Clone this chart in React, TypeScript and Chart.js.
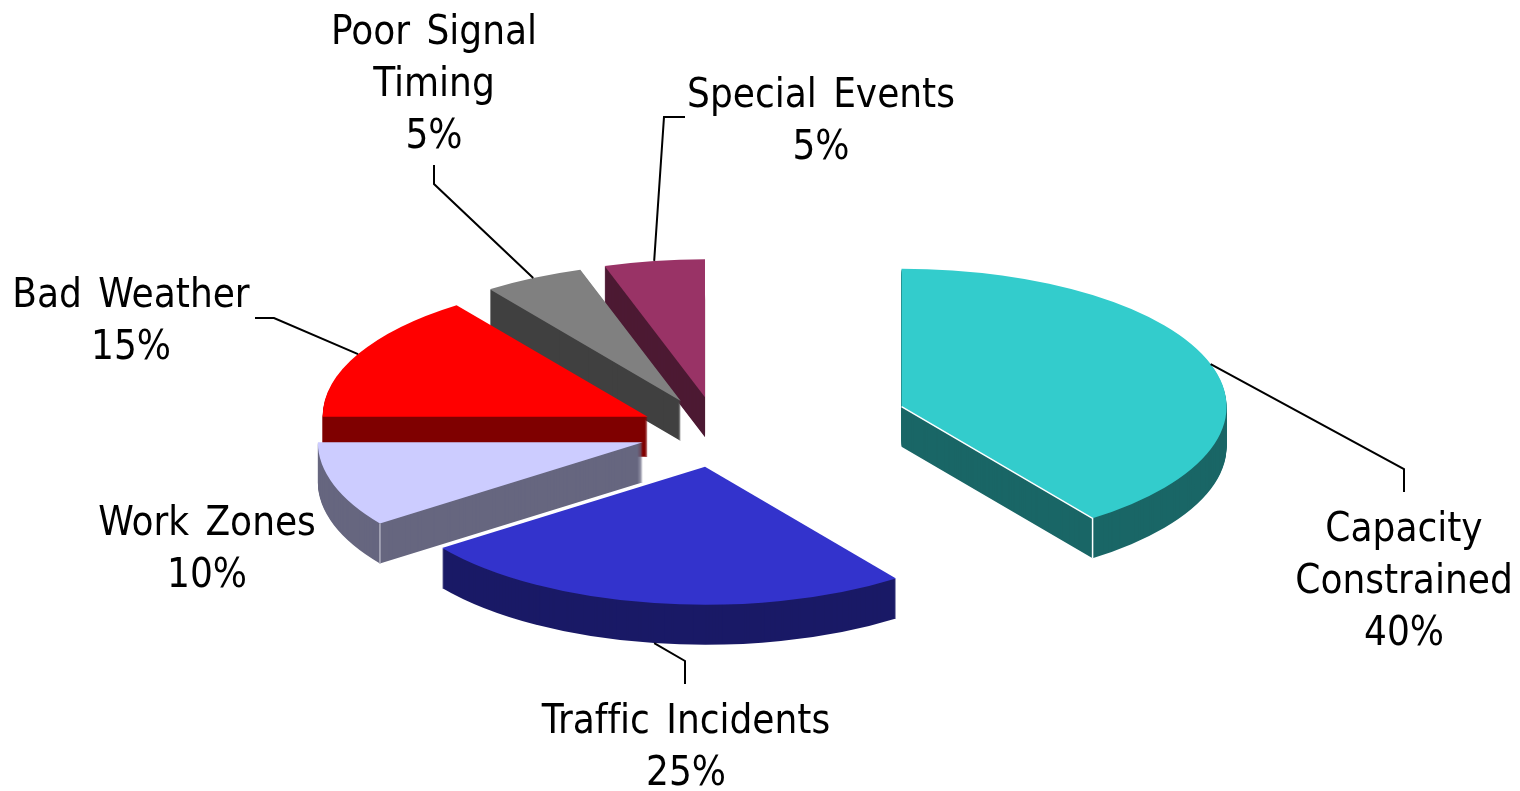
import React, { useEffect, useRef } from "react";
import { Chart, registerables } from "chart.js";

Chart.register(...registerables);

// Data
const categories = ["Capacity Constrained", "Traffic Incidents", "Work Zones", "Bad Weather", "Poor Signal Timing", "Special Events"];
const shares = [40, 25, 10, 15, 5, 5];
const labelLines = [["Capacity", "Constrained"], ["Traffic Incidents"], ["Work Zones"], ["Bad Weather"], ["Poor Signal", "Timing"], ["Special Events"]];
const sliceColors = ["#33CCCC", "#3333CC", "#CCCCFF", "#FF0000", "#808080", "#993366"];

// Styling / layout
const explode = [193, 83, 79, 79, 82, 83];
const SQUASH = 0.4246;
const DEPTH = 40;
const RADIUS = 325;
const FONT = '40px "DejaVu Sans Condensed", "DejaVu Sans", sans-serif';
const LINE_H = 52;
const labelCenterX = [1404, 686, 207, 131, 434, 821];
const labelFirstBaseline = [541, 733, 535, 307, 44, 107];
// Leader lines: elbow points from slice edge out to label (null = no leader)
const leaderElbows: (number[][] | null)[] = [
  [[1404, 469], [1404, 492]],
  [[685, 661], [685, 684]],
  null,
  [[274, 318], [255, 318]],
  [[434, 184], [434, 165]],
  [[664, 117], [685, 117]],
];
const leaderOnSide = [false, true, false, false, false, false];
const drawOrder = [5, 4, 3, 2, 1, 0];
const cornerEdge: (string | null)[] = ["#FFFFFF", null, "#B0B0C0", null, null, null];

function sliceOrigin(arc: any, i: number) {
  const mid = (arc.startAngle + arc.endAngle) / 2;
  return {
    mid,
    ox: arc.x + Math.cos(mid) * explode[i],
    oy: arc.y + Math.sin(mid) * explode[i] * SQUASH,
  };
}

const pie3d = {
  id: "pie3d",
  beforeDatasetsDraw(chart: any) {
    const ctx = chart.ctx;
    const arcs = chart.getDatasetMeta(0).data;
    for (const i of drawOrder) {
      const arc = arcs[i];
      const { ox, oy } = sliceOrigin(arc, i);
      const paint = (lift: number) => {
        ctx.save();
        ctx.translate(ox, oy + lift);
        ctx.scale(1, SQUASH);
        ctx.translate(-arc.x, -arc.y);
        arc.draw(ctx);
        ctx.restore();
      };
      ctx.save();
      ctx.filter = "brightness(50%)";
      for (let d = DEPTH; d > 0; d--) paint(d);
      ctx.restore();
      paint(0);
      const edge = cornerEdge[i];
      if (edge) {
        const a = i === 0 ? arc.endAngle : arc.startAngle;
        const px = ox + Math.cos(a) * RADIUS;
        const py = oy + Math.sin(a) * RADIUS * SQUASH;
        ctx.save();
        ctx.strokeStyle = edge;
        ctx.lineWidth = 1.5;
        ctx.beginPath();
        if (i === 0) {
          ctx.moveTo(ox, oy);
          ctx.lineTo(px, py);
        } else {
          ctx.moveTo(px, py);
        }
        ctx.lineTo(px, py + DEPTH);
        ctx.stroke();
        ctx.restore();
      }
    }
    return false;
  },
  afterDraw(chart: any) {
    const ctx = chart.ctx;
    const arcs = chart.getDatasetMeta(0).data;
    ctx.save();
    ctx.strokeStyle = "#000000";
    ctx.lineWidth = 2;
    ctx.lineJoin = "miter";
    arcs.forEach((arc: any, i: number) => {
      const elbows = leaderElbows[i];
      if (!elbows) return;
      const { mid, ox, oy } = sliceOrigin(arc, i);
      ctx.beginPath();
      ctx.moveTo(ox + Math.cos(mid) * RADIUS, oy + Math.sin(mid) * RADIUS * SQUASH + (leaderOnSide[i] ? DEPTH : 0));
      elbows.forEach(([x, y]) => ctx.lineTo(x, y));
      ctx.stroke();
    });
    ctx.fillStyle = "#000000";
    ctx.font = FONT;
    ctx.textAlign = "center";
    ctx.textBaseline = "alphabetic";
    ctx.textRendering = "optimizeSpeed";
    ctx.wordSpacing = "5px";
    labelLines.forEach((lines, i) => {
      [...lines, shares[i] + "%"].forEach((t, k) => {
        ctx.fillText(t, labelCenterX[i], labelFirstBaseline[i] + k * LINE_H);
      });
    });
    ctx.restore();
  },
};

export default function App() {
  const ref = useRef<HTMLCanvasElement>(null);
  useEffect(() => {
    const chart = new Chart(ref.current!, {
      type: "pie",
      data: {
        labels: categories,
        datasets: [{ data: shares, backgroundColor: sliceColors, borderWidth: 0 }],
      },
      options: {
        animation: false,
        responsive: false,
        devicePixelRatio: 1,
        radius: RADIUS,
        layout: { padding: { top: 73, right: 84, left: 0, bottom: 0 } },
        plugins: { legend: { display: false }, tooltip: { enabled: false } },
      } as any,
      plugins: [pie3d],
    });
    return () => chart.destroy();
  }, []);
  return (
    <canvas
      ref={ref}
      width={1520}
      height={791}
      style={{ position: "absolute", left: 0, top: 0, background: "#FFFFFF" }}
    />
  );
}
